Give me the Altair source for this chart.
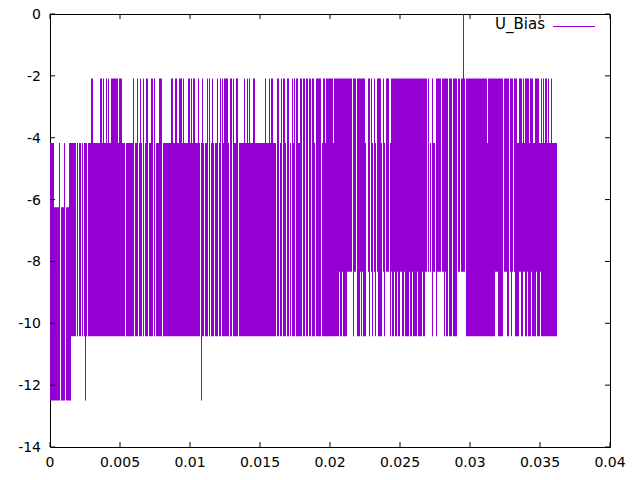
import altair as alt
import pandas as pd

# Quantised bias levels (V)
LEVELS = [0.0, -2.083, -4.167, -6.25, -8.333, -10.417, -12.5]
# sample spacing in seconds
DT = 1 / 14000
SERIES = "U_Bias"

# per-sample upper / lower level index ('.' = signal flat, nothing drawn)
HI = (
    "2222333332" ".3332.3332" "222222.2.2" "2.2.222.22" "2112222222"
    "1121221212" "2111111121" "11222.2222" "2221.221.2" "12.1.211.2"
    "211.1.2221" "11.2222222" "2112211221" "1121222211" "2121122212"
    ".212.221.1" ".212.221.2" "1.1211112." "11.12211.2" "2222122121"
    "2221122222" "2222212221" "211222.11." "21.112.11." "2.121.1122"
    "11.11.11.1" "1.112.1111" "1.21121111" "1112111111" "1111111111"
    "11.111.111" "111112..11" ".12.12.111" "12.12.111." "2111111111"
    "1111111111" "1111111111" "1111111.1." "2.122.1111" "1.111111.1"
    "11.1111.11" ".1101.1111" "1111111111" "1111111211" "1111111111"
    "111.11111." "111.111221" "1121211112" "1112211112" "2121211212" "2122222"
)
LO = (
    "6666666666" ".6666.6666" "655555.5.5" "5.5.565.55" "5555555555"
    "5555555555" "5555555555" "55555.5555" "5555.555.5" "55.5.555.5"
    "555.5.5555" "55.5555555" "5555555555" "5555555555" "5555555555"
    ".655.555.5" ".555.555.5" "5.5555555." "55.55555.5" "5555555555"
    "5555555555" "5555555555" "555555.55." "55.555.55." "5.555.5555"
    "55.55.55.5" "5.555.5555" "5.55555555" "5555555554" "5545555444"
    "44.544.555" "454555..45" ".45.45.455" "55.45.444." "5455455455"
    "4455455554" "5545555455" "5545544.4." "4.544.5444" "4.445455.5"
    "55.5555.44" ".4444.5555" "5555555555" "5555555555" "5555544455"
    "555.44455." "454.455554" "4554455455" "5455554555" "4555555555" "5555555"
)

X_TICKS = [0, 0.005, 0.01, 0.015, 0.02, 0.025, 0.03, 0.035, 0.04]
Y_TICKS = [-14, -12, -10, -8, -6, -4, -2, 0]

rows = []
for i, (h, l) in enumerate(zip(HI, LO)):
    if h == "." or l == ".":
        continue
    rows.append({"t": i * DT, "t_end": (i + 1) * DT,
                 "hi": LEVELS[int(h)], "lo": LEVELS[int(l)], "series": SERIES})
df = pd.DataFrame(rows)

W, H = 560, 433
FONT = "DejaVu Sans"
FS = 14
TICK = 5
PURPLE = "#9400D3"

xs = alt.Scale(domain=[0, 0.04], nice=False, zero=False)
ys = alt.Scale(domain=[-14, 0], nice=False, zero=False)

# each sample's excursion, drawn over its sample interval
signal = alt.Chart(df).mark_rect(color=PURPLE, strokeWidth=0).encode(
    x=alt.X("t:Q", scale=xs, axis=None),
    x2="t_end:Q",
    y=alt.Y("hi:Q", scale=ys, axis=None),
    y2="lo:Q",
)

# key (gnuplot style: label, then line sample)
key_df = pd.DataFrame({"series": [SERIES]})
key_text = alt.Chart(key_df).mark_text(
    align="right", baseline="middle", font=FONT, fontSize=15, color="black"
).encode(text="series:N", x=alt.value(495), y=alt.value(10))
key_line = alt.Chart(key_df).mark_rule(color=PURPLE, strokeWidth=1).encode(
    x=alt.value(503), x2=alt.value(545), y=alt.value(12.5))

xt = pd.DataFrame({"v": X_TICKS, "label": [f"{v:g}" for v in X_TICKS]})
yt = pd.DataFrame({"v": Y_TICKS, "label": [f"{v:g}" for v in Y_TICKS]})
tick_style = dict(color="black", strokeWidth=1)

bottom = alt.Chart(xt).mark_rule(**tick_style).encode(
    x=alt.X("v:Q", scale=xs, axis=None), y=alt.value(H), y2=alt.value(H - TICK))
top = alt.Chart(xt).mark_rule(**tick_style).encode(
    x=alt.X("v:Q", scale=xs, axis=None), y=alt.value(0), y2=alt.value(TICK))
left = alt.Chart(yt).mark_rule(**tick_style).encode(
    y=alt.Y("v:Q", scale=ys, axis=None), x=alt.value(0), x2=alt.value(TICK))
right = alt.Chart(yt).mark_rule(**tick_style).encode(
    y=alt.Y("v:Q", scale=ys, axis=None), x=alt.value(W), x2=alt.value(W - TICK))

x_labels = alt.Chart(xt).mark_text(
    align="center", baseline="middle", font=FONT, fontSize=FS, color="black"
).encode(x=alt.X("v:Q", scale=xs, axis=None), y=alt.value(H + 16), text="label:N")
y_labels = alt.Chart(yt).mark_text(
    align="right", baseline="middle", font=FONT, fontSize=FS, color="black", dy=1
).encode(y=alt.Y("v:Q", scale=ys, axis=None), x=alt.value(-9), text="label:N")

chart = alt.layer(
    signal, bottom, top, left, right, x_labels, y_labels, key_text, key_line
).properties(
    width=W, height=H,
    background="white",
    autosize=alt.AutoSizeParams(type="none"),
    padding={"left": 42, "top": 6, "right": 20, "bottom": 30},
).configure_view(stroke="black", strokeWidth=1)

chart.save("out.html", embed_options={"renderer": "svg", "actions": False})
